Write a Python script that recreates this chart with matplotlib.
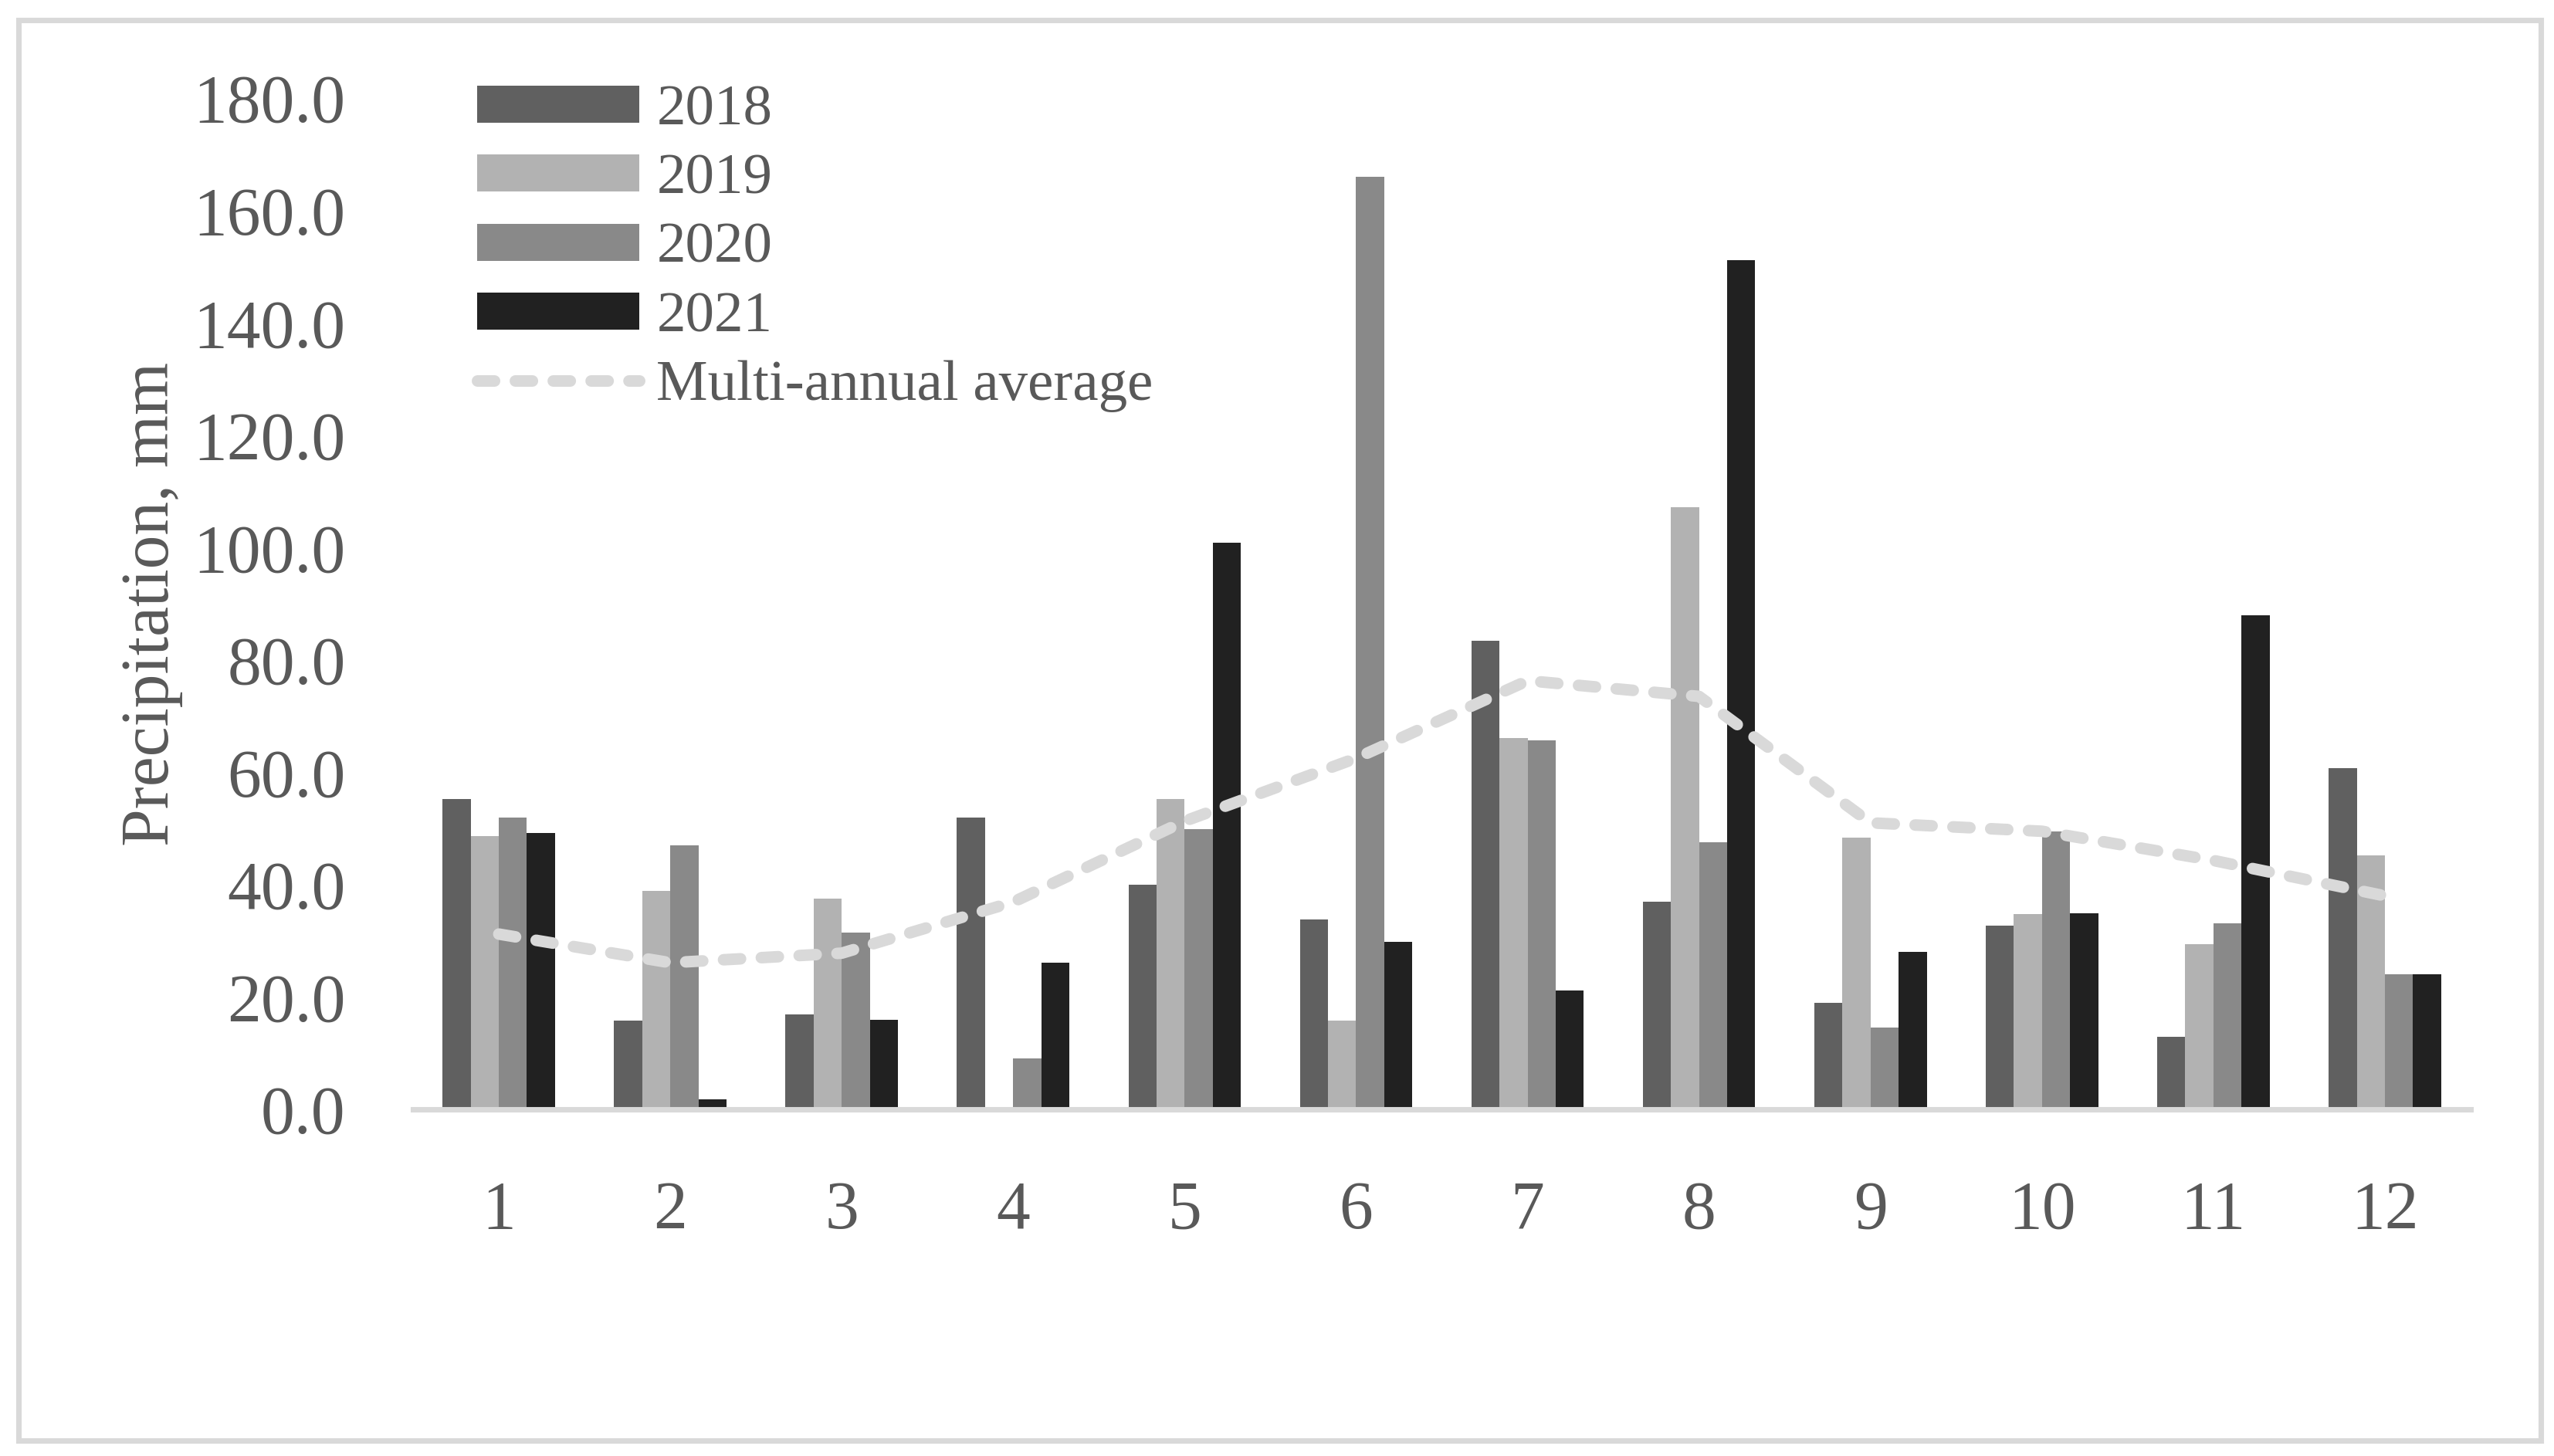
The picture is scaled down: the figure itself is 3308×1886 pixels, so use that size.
import matplotlib
matplotlib.use("Agg")
import matplotlib.pyplot as plt
import numpy as np
from matplotlib.patches import Rectangle

months = [1, 2, 3, 4, 5, 6, 7, 8, 9, 10, 11, 12]
p2018 = [55.3, 15.8, 16.9, 52.0, 40.0, 33.8, 83.4, 36.9, 18.9, 32.7, 12.9, 60.8]
p2019 = [48.6, 38.9, 37.5, 0.0, 55.3, 15.8, 66.1, 107.2, 48.4, 34.7, 29.4, 45.2]
p2020 = [52.0, 47.0, 31.5, 9.1, 49.9, 166.0, 65.7, 47.5, 14.6, 49.4, 33.1, 24.1]
p2021 = [49.2, 1.8, 16.0, 26.1, 100.9, 29.8, 21.2, 151.1, 28.0, 34.9, 88.0, 24.1]
average = [31.2, 26.1, 27.8, 36.9, 51.3, 62.5, 76.3, 73.5, 51.0, 49.5, 44.3, 38.0]
series_labels = ["2018", "2019", "2020", "2021"]
avg_label = "Multi-annual average"
yticks = [0, 20, 40, 60, 80, 100, 120, 140, 160, 180]

colors = ["#606060", "#b2b2b2", "#898989", "#212121"]
avg_color = "#d9d9d9"
text_color = "#595959"

plt.rcParams["font.family"] = ["Liberation Serif", "DejaVu Serif"]

W, H = 3308, 1886
dpi = 300
fig = plt.figure(figsize=(W / dpi, H / dpi), dpi=dpi)
ax = fig.add_axes([535 / W, 1 - 1437 / H, (3200 - 535) / W, (1437 - 127) / H])

x = np.array(months, dtype=float)
bw = 0.164
for i, (vals, lab, c) in enumerate(zip([p2018, p2019, p2020, p2021], series_labels, colors)):
    ax.bar(x + (i - 1.5) * bw, vals, width=bw, color=c, label=lab, zorder=2, linewidth=0)

lw = 3.6
ax.plot(x, average, color=avg_color, linewidth=lw, linestyle=(0, (1.47, 1.8)),
        dash_capstyle="round", dash_joinstyle="round", label=avg_label, zorder=3)

ax.set_xlim(0.5, 12.5)
ax.set_ylim(0, 180)
ax.set_yticks(yticks)
ax.set_yticklabels([f"{v:.1f}" for v in yticks])
ax.set_xticks(x)
ax.set_xticklabels([str(m) for m in months])

for s in ["top", "right", "left"]:
    ax.spines[s].set_visible(False)
ax.spines["bottom"].set_color(avg_color)
ax.spines["bottom"].set_linewidth(1.7)
ax.spines["bottom"].set_zorder(4)
ax.tick_params(axis="both", length=0, labelsize=21, labelcolor=text_color)
ax.tick_params(axis="x", pad=22)
ax.tick_params(axis="y", pad=21)

ax.set_ylabel("Precipitation, mm", fontsize=21, color=text_color)
ax.yaxis.set_label_coords(-0.112, 0.5)

handles, labels = ax.get_legend_handles_labels()
order = [1, 2, 3, 4, 0]
handles = [handles[k] for k in order]
labels = [labels[k] for k in order]
leg = fig.legend(handles, labels, loc="upper left", bbox_to_anchor=(618 / W, 1 - 110 / H),
                 bbox_transform=fig.transFigure, frameon=False, fontsize=18,
                 handlelength=2.8, handleheight=0.61, handletextpad=0.3,
                 labelspacing=0.29, borderpad=0, borderaxespad=0)
for t in leg.get_texts():
    t.set_color(text_color)

border = Rectangle((23.5 / W, 1 - 1865.5 / H), (3290.5 - 23.5) / W, (1865.5 - 26.5) / H,
                   transform=fig.transFigure, fill=False, edgecolor=avg_color,
                   linewidth=1.7, zorder=10)
fig.add_artist(border)

fig.savefig("out.png", dpi=dpi, facecolor="white")
